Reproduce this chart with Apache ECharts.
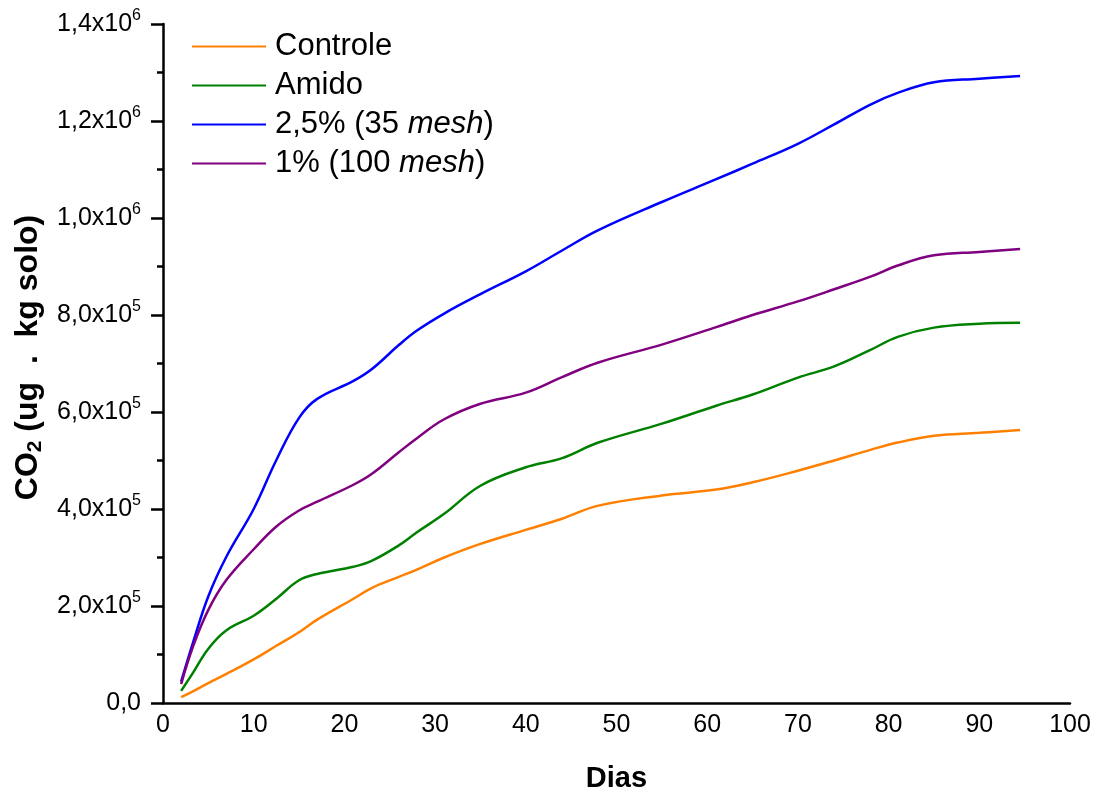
<!DOCTYPE html>
<html>
<head>
<meta charset="utf-8">
<script src="https://cdn.jsdelivr.net/npm/echarts@6/dist/echarts.min.js"></script>
<style>html,body{margin:0;padding:0;background:#fff}#c{width:1098px;height:790px}</style>
</head>
<body>
<div id="c"></div>
<script>
const days = [2, 3.3, 5, 7, 10, 12.5, 15, 17, 21, 23, 26, 28, 31, 35, 40, 44, 48, 55, 61, 65, 70, 74, 78, 81, 85, 90, 94.5];
const controle = [12e3, 24e3, 41e3, 60e3, 90e3, 118e3, 146e3, 172e3, 215e3, 237e3, 260e3, 275e3, 300e3, 328e3, 357e3, 380e3, 407e3, 428e3, 440e3, 455e3, 479e3, 500e3, 522e3, 537e3, 551e3, 557e3, 563e3];
const amido = [25e3, 62e3, 112e3, 150e3, 180e3, 215e3, 253e3, 266e3, 281e3, 293e3, 325e3, 352e3, 390e3, 448e3, 486e3, 505e3, 537e3, 576e3, 613e3, 636e3, 671e3, 694e3, 728e3, 755e3, 774e3, 782e3, 784e3];
const mesh35 = [44e3, 124e3, 220e3, 302e3, 400e3, 501e3, 588e3, 627e3, 664e3, 688e3, 738e3, 768e3, 803e3, 843e3, 890e3, 933e3, 975e3, 1033e3, 1080e3, 1112e3, 1153e3, 1193e3, 1234e3, 1258e3, 1280e3, 1287e3, 1293e3];
const mesh100 = [39e3, 116e3, 192e3, 254e3, 317e3, 364e3, 397e3, 415e3, 450e3, 472e3, 517e3, 546e3, 585e3, 617e3, 640e3, 672e3, 702e3, 739e3, 775e3, 800e3, 828e3, 853e3, 879e3, 902e3, 923e3, 930e3, 936e3];
const seriesNames = ['Controle', 'Amido', '2,5% (35 mesh)', '1% (100 mesh)'];
const legendLabels = ['Controle', 'Amido', '2,5% (35 {i|mesh})', '1% (100 {i|mesh})'];
const colors = ['#ff8000', '#008000', '#0000ff', '#800080'];
const yTickLabels = {0: '0,0', 200000: '2,0x10|5', 400000: '4,0x10|5', 600000: '6,0x10|5', 800000: '8,0x10|5', 1000000: '1,0x10|6', 1200000: '1,2x10|6', 1400000: '1,4x10|6'};

const FONT = '"Liberation Sans", Arial, sans-serif';
const allData = [controle, amido, mesh35, mesh100];
const chart = echarts.init(document.getElementById('c'), null, {renderer: 'canvas'});
chart.setOption({
  backgroundColor: '#fff',
  animation: false,
  textStyle: {fontFamily: FONT},
  grid: {left: 163, right: 28, top: 24, bottom: 87, containLabel: false, outerBoundsMode: 'none'},
  legend: {
    orient: 'vertical', left: 192, top: 31, itemGap: 8, padding: 0,
    icon: 'rect', itemWidth: 74, itemHeight: 2,
    data: seriesNames,
    formatter: function (n) { return legendLabels[seriesNames.indexOf(n)]; },
    textStyle: {fontFamily: FONT, fontSize: 31, color: '#000', padding: [0, 0, 0, 4],
      rich: {i: {fontFamily: FONT, fontSize: 31, fontStyle: 'italic', color: '#000'}}}
  },
  xAxis: {
    type: 'value', min: 0, max: 100, interval: 10,
    name: 'Dias', nameLocation: 'middle', nameGap: 61,
    nameTextStyle: {fontFamily: FONT, fontSize: 29, fontWeight: 'bold', color: '#000'},
    axisLine: {show: true, onZero: false, lineStyle: {color: '#000', width: 2.5}},
    axisTick: {show: false},
    axisLabel: {fontFamily: FONT, fontSize: 25, color: '#000', margin: 10},
    splitLine: {show: false}
  },
  yAxis: {
    type: 'value', min: 0, max: 1400000, interval: 200000,
    name: '{b|CO}{s|2}{b| (ug  .  kg solo)}', nameLocation: 'middle', nameGap: 117, nameRotate: 90,
    nameTextStyle: {fontFamily: FONT, fontSize: 32, fontWeight: 'bold', color: '#000', padding: [0, 0, 0, 12],
      rich: {
        b: {fontFamily: FONT, fontSize: 32, fontWeight: 'bold', color: '#000'},
        s: {fontFamily: FONT, fontSize: 21, fontWeight: 'bold', color: '#000', padding: [14, 0, 0, 0]}
      }},
    axisLine: {show: true, lineStyle: {color: '#000', width: 2.5}},
    axisTick: {show: true, inside: false, length: 12, lineStyle: {color: '#000', width: 2.5}},
    minorTick: {show: true, splitNumber: 2, length: 6, lineStyle: {color: '#000', width: 2.5}},
    axisLabel: {
      fontFamily: FONT, fontSize: 25, color: '#000', margin: 22,
      formatter: function (v) {
        const s = yTickLabels[v];
        if (s === undefined) return '';
        const p = s.split('|');
        return p.length > 1 ? '{m|' + p[0] + '}{e|' + p[1] + '}' : '{m|' + p[0] + '}';
      },
      rich: {
        m: {fontFamily: FONT, fontSize: 25, color: '#000'},
        e: {fontFamily: FONT, fontSize: 16, color: '#000', padding: [0, 0, 16, 0]}
      }
    },
    splitLine: {show: false}
  },
  series: seriesNames.map(function (n, i) {
    return {
      name: n, type: 'line', smooth: 0.4, showSymbol: false, symbol: 'none',
      data: days.map(function (d, k) { return [d, allData[i][k]]; }),
      lineStyle: {color: colors[i], width: 2.5}, itemStyle: {color: colors[i]}
    };
  })
});
</script>
</body>
</html>
